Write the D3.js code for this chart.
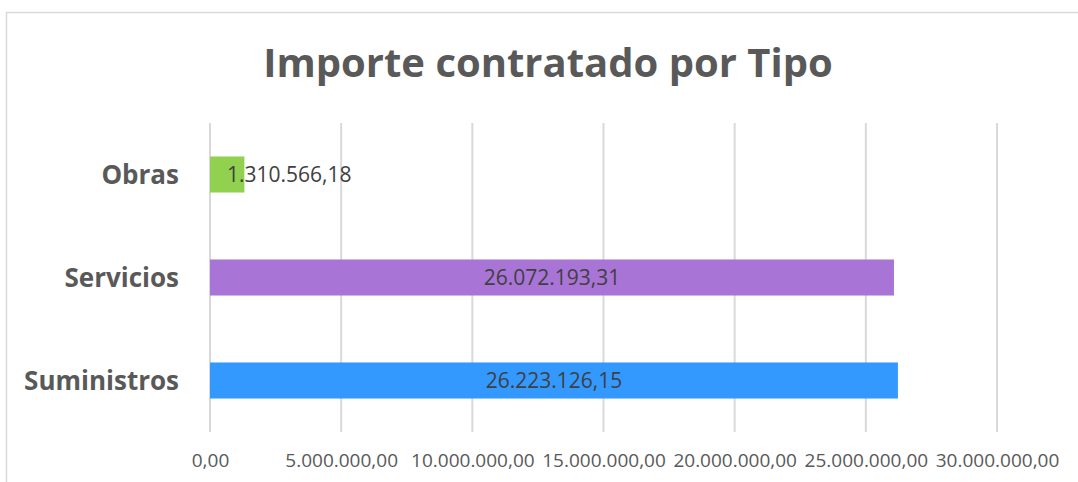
<!DOCTYPE html>
<html><head><meta charset="utf-8">
<script src="https://cdn.jsdelivr.net/npm/d3@7"></script>
<style>body{margin:0;background:#fff}</style>
</head><body>
<script>
const categories = ["Obras", "Servicios", "Suministros"];
const values = [1310566.18, 26072193.31, 26223126.15];
const colors = ["#92D050", "#A874D6", "#3399FF"];
const tickValues = [0, 5000000, 10000000, 15000000, 20000000, 25000000, 30000000];
const title = "Importe contratado por Tipo";

const W = 1078, H = 482;
const font = "'Open Sans', sans-serif";
const svg = d3.select("body").append("svg").attr("width", W).attr("height", H);

svg.append("rect").attr("x", 6.5).attr("y", 12.5).attr("width", W + 10).attr("height", H + 10)
  .attr("fill", "#fff").attr("stroke", "#d9d9d9").attr("stroke-width", 1.5);

const esFmt = d3.formatLocale({decimal: ",", thousands: ".", grouping: [3], currency: ["", "€"]}).format(",.2f");

const x = d3.scaleLinear().domain([0, 30000000]).range([210, 997]);
const y = d3.scaleBand().domain(categories).range([123, 432]).paddingInner(0.65).paddingOuter(0.325);

svg.append("text").attr("x", 548).attr("y", 77).attr("text-anchor", "middle")
  .attr("font-family", font).attr("font-weight", "bold").attr("font-size", 40).attr("fill", "#595959").text(title);

svg.append("g").selectAll("line").data(tickValues).join("line")
  .attr("x1", d => x(d)).attr("x2", d => x(d)).attr("y1", 123).attr("y2", 432)
  .attr("stroke", "#d9d9d9").attr("stroke-width", 2);

const xAxis = d3.axisBottom(x).tickValues(tickValues).tickFormat(esFmt).tickSize(0).tickPadding(0);
const gx = svg.append("g").attr("transform", "translate(0,467)").call(xAxis);
gx.select(".domain").remove();
gx.selectAll("text").attr("font-family", font).attr("font-size", 19).attr("fill", "#595959").attr("dy", "0");

const yAxis = d3.axisLeft(y).tickSize(0).tickPadding(31);
const gy = svg.append("g").attr("transform", "translate(210,0)").call(yAxis);
gy.select(".domain").remove();
gy.selectAll("text").attr("font-family", font).attr("font-weight", "bold").attr("font-size", 26).attr("fill", "#595959").attr("dy", "0.36em");

svg.append("g").selectAll("rect").data(categories).join("rect")
  .attr("x", x(0)).attr("y", d => y(d)).attr("width", (d, i) => x(values[i]) - x(0))
  .attr("height", y.bandwidth()).attr("fill", (d, i) => colors[i]);

svg.append("g").selectAll("text").data(categories).join("text")
  .attr("font-family", font).attr("font-size", 21).attr("fill", "#404040")
  .attr("y", d => y(d) + y.bandwidth() / 2).attr("dy", "0.36em")
  .text((d, i) => esFmt(values[i]))
  .each(function(d, i) {
    const t = d3.select(this);
    const w = this.getComputedTextLength();
    const c = (x(0) + x(values[i])) / 2;
    if (w + 20 > x(values[i]) - x(0)) t.attr("x", x(0) + 17).attr("text-anchor", "start");
    else t.attr("x", c).attr("text-anchor", "middle");
  });
</script>
</body></html>
